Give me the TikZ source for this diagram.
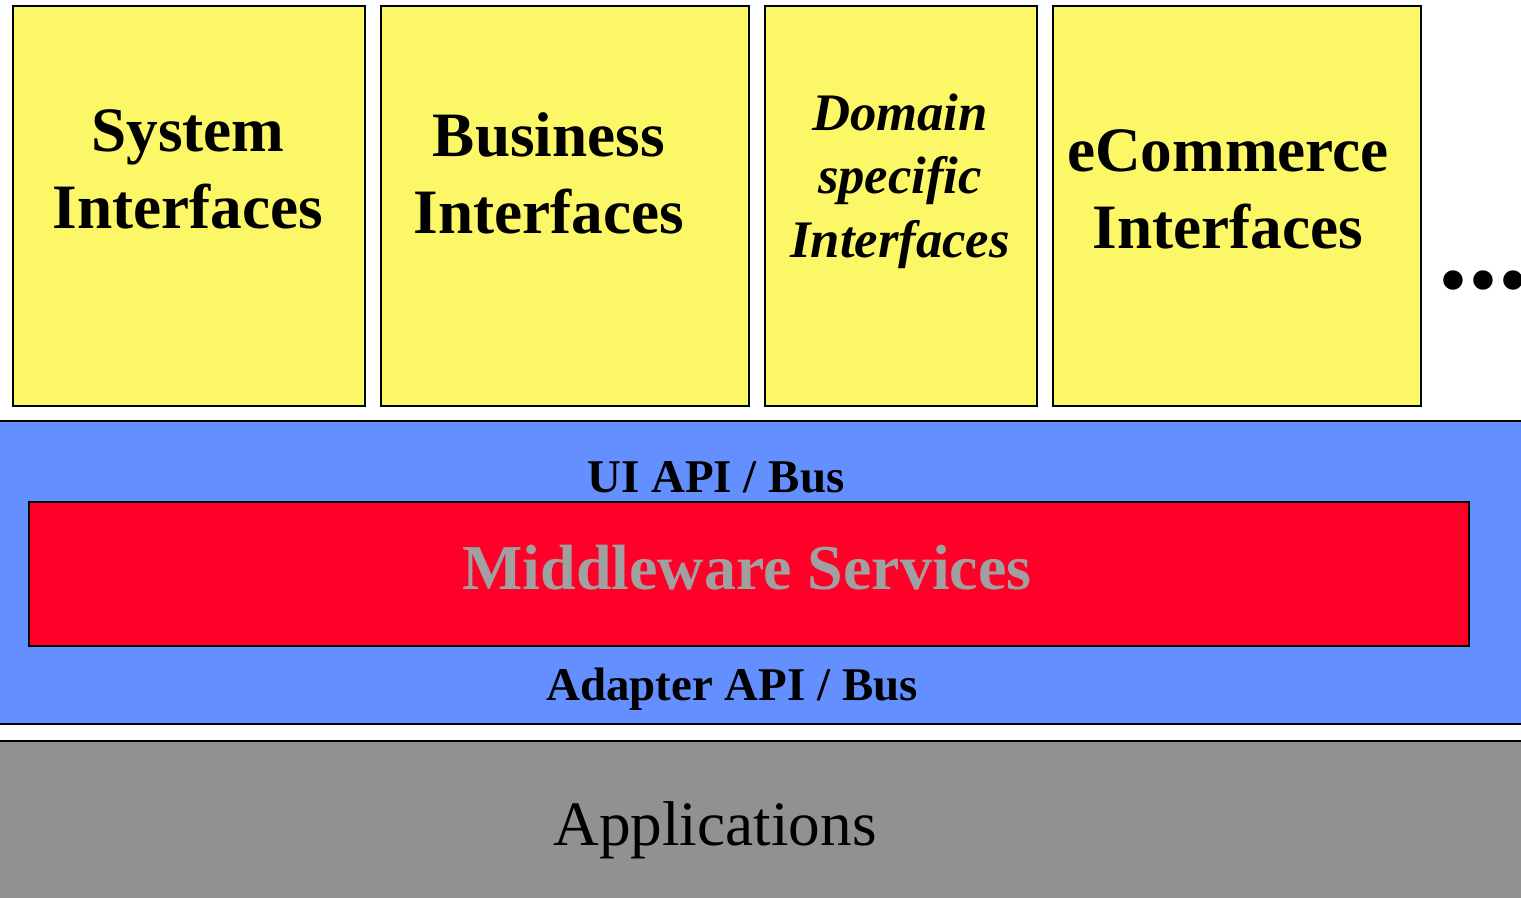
\documentclass[tikz,border=0pt]{standalone}
\usepackage{fontspec}
\setmainfont{Liberation Serif}

\definecolor{ifaceyellow}{RGB}{251,247,102}
\definecolor{busblue}{RGB}{99,143,255}
\definecolor{mwred}{RGB}{255,0,40}
\definecolor{appgray}{RGB}{145,145,145}
\definecolor{mwgray}{RGB}{160,160,160}

\tikzset{
    ifacebox/.style={draw, line width=1.1pt, fill=ifaceyellow, anchor=north west, inner sep=0pt},
    ifacetext/.style={font=\bfseries\fontsize{36}{43.6}\selectfont, align=center, anchor=base, inner sep=0pt},
    domtext/.style={font=\bfseries\itshape\fontsize{30}{36}\selectfont, align=center, anchor=base, inner sep=0pt},
    bustext/.style={font=\bfseries\fontsize{26.7}{32}\selectfont, anchor=base, inner sep=0pt},
}

\begin{document}
\begin{tikzpicture}[x=0.02cm, y=-0.02cm]

                \useasboundingbox (0, 0) rectangle (1521, 897);

                % Draw the interface boxes on top
                \foreach \name/\x/\w in {sysbox/12/352, busbox/380/368, dombox/764/272, ecombox/1052/368} {
                    \node[ifacebox, minimum width=\w*0.02cm, minimum height=8cm] (\name) at (\x, 5) {};
                }

                % Add labels to interface boxes (anchored at the last line)
                \node[ifacetext] (systext) at (188, 228) {System\\Interfaces};
                \node[ifacetext] (bustext) at (549, 233) {Business\\Interfaces};
                \node[domtext] (domtext) at (900, 257) {Domain\\specific\\Interfaces};
                \node[ifacetext] (ecomtext) at (1228, 248) {eCommerce\\Interfaces};
                \node[font=\bfseries\fontsize{68}{80}\selectfont, anchor=base west, inner sep=0pt] (more) at (1438, 288) {...};

                % Draw the middleware band
                \draw[line width=1.1pt, fill=busblue] (-10, 421) rectangle (1531, 724);
                \node[draw, line width=1.1pt, fill=mwred, anchor=north west, minimum width=28.8cm, minimum height=2.88cm, inner sep=0pt] (mwbox) at (28, 501) {};
                \node[bustext] (uibus) at (716, 492) {UI API / Bus};
                \node[font=\bfseries\fontsize{36.4}{42}\selectfont, text=mwgray, anchor=base, inner sep=0pt] (mwtext) at (747, 589) {Middleware Services};
                \node[bustext] (adapterbus) at (732, 700) {Adapter API / Bus};

                % Draw the applications layer
                \draw[line width=1.1pt, fill=appgray] (-10, 741) rectangle (1531, 910);
                \node[font=\fontsize{36}{43}\selectfont, anchor=base, inner sep=0pt] (apps) at (715, 845) {Applications};

\end{tikzpicture}
\end{document}
